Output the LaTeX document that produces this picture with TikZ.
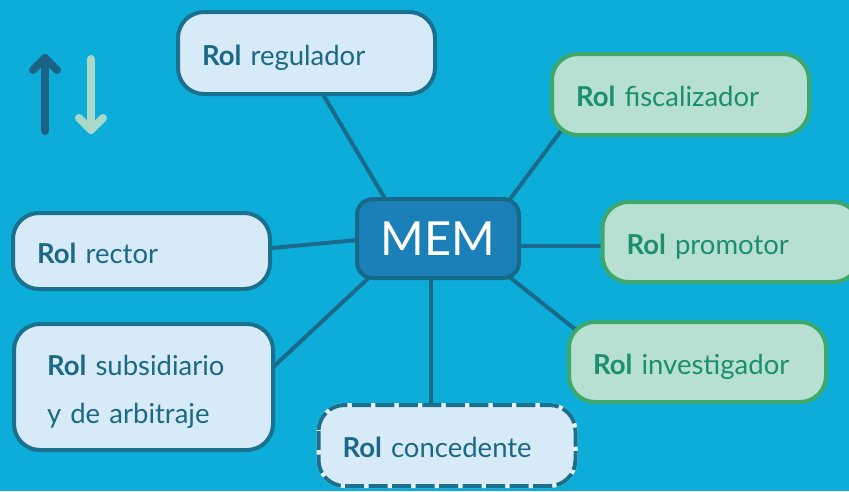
\documentclass[tikz,border=0pt]{standalone}
\usepackage{fontspec}
\setmainfont{Lato}
\usetikzlibrary{calc,backgrounds}
\definecolor{bgc}{HTML}{0CAED9}
\definecolor{boxfill}{HTML}{D7EAF7}
\definecolor{boxborder}{HTML}{19708F}
\definecolor{boxtext}{HTML}{1B6887}
\definecolor{grfill}{HTML}{B7DFD2}
\definecolor{grborder}{HTML}{3DA86A}
\definecolor{grtext}{HTML}{1A8F6F}
\definecolor{memfill}{HTML}{1A80B7}
\definecolor{memborder}{HTML}{17698A}
\definecolor{linec}{HTML}{1A6B8B}
\definecolor{arrdark}{HTML}{1B6386}
\definecolor{arrlight}{HTML}{A9D9C9}
\begin{document}
\begin{tikzpicture}[x=1pt,y=-1pt,
  rolbox/.style={draw=boxborder, fill=boxfill, line width=4pt, rounded corners=26pt,
    minimum height=80pt, text width=209pt, align=left, inner xsep=24pt, inner ysep=0pt,
    text height=24pt, text depth=0pt,
    text=boxtext, font=\fontsize{27.5}{30}\selectfont},
  grbox/.style={rolbox, draw=grborder, fill=grfill, text=grtext},
  conn/.style={draw=linec, line width=4pt},
  arrowline/.style={line width=8pt, line cap=round, line join=round}]
\useasboundingbox (0,0) rectangle (849,491);
% nodes
\node[rolbox, minimum height=82pt] (reg) at (306.5,53) {\textbf{Rol} regulador};
\node[grbox, minimum height=81pt] (fisc) at (680.5,94.5) {\textbf{Rol} fiscalizador};
\node[rolbox, minimum height=76pt] (rector) at (141.5,251) {\textbf{Rol} rector};
\node[grbox] (prom) at (731,242) {\textbf{Rol} promotor};
\node[grbox] (inv) at (697.5,362) {\textbf{Rol} investigador};
\node[rolbox, minimum height=126pt, inner xsep=33pt, text width=193pt,
  text height=24pt, text depth=48pt,
  font=\fontsize{27.5}{48}\selectfont] (sub) at (143.5,387) {\textbf{Rol} subsidiario\\y de arbitraje};
\node[rolbox, draw=boxfill!60!white, minimum height=81pt] (conc) at (447,445.5) {\textbf{Rol} concedente};
\draw[draw=boxborder, line width=4pt, rounded corners=26pt, dash pattern=on 19pt off 4.5pt]
  (conc.north west) ++(2,2) rectangle ($(conc.south east)+(-2,-2)$);
\node[draw=memborder, fill=memfill, line width=4pt, rounded corners=16pt,
  minimum width=162pt, minimum height=79pt, inner sep=0pt, text=white,
  font=\fontsize{47}{50}\selectfont] (mem) at (438,238.5) {MEM};
% background and connectors
\begin{scope}[on background layer]
  \fill[bgc] (0,0) rectangle (849,491);
  \draw[conn] ($(reg.center)+(5.5,23)$) -- ($(mem.center)+(-42,-21.5)$);
  \draw[conn] ($(fisc.center)+(-105.5,17.5)$) -- ($(mem.center)+(61,-24.5)$);
  \draw[conn] ($(rector.center)+(108.5,-1)$) -- ($(mem.center)+(-58,-0.5)$);
  \draw[conn] ($(prom.center)+(-100,4)$) -- ($(mem.center)+(60,7.5)$);
  \draw[conn] ($(mem.center)+(55,25.5)$) -- ($(inv.center)+(-97.5,-13)$);
  \draw[conn] ($(sub.center)+(111.5,-3)$) -- ($(mem.center)+(-48,19.5)$);
  \draw[conn] ($(mem.center)+(-7,0)$) -- ($(conc.center)+(-16,0)$);
\end{scope}
% arrows icon
\draw[arrowline, draw=arrdark] (45,131) -- (45,58);
\draw[arrowline, draw=arrdark] (33,70) -- (45,58) -- (57,70);
\draw[arrowline, draw=arrlight] (91,59) -- (91,130);
\draw[arrowline, draw=arrlight] (79,118) -- (91,130) -- (103,118);
\end{tikzpicture}
\end{document}
